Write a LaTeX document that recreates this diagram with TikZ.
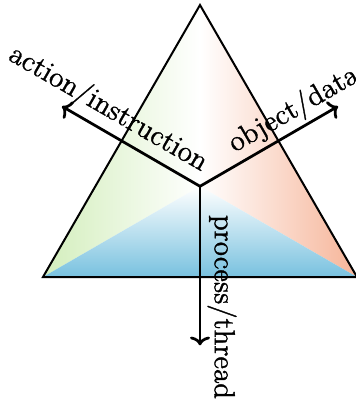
\documentclass[tikz,border=0pt]{standalone}
\usepackage{fontspec}
\newfontfamily\lblfont{lmroman12-regular.otf}[FakeBold=1.2]
\usetikzlibrary{calc,arrows.meta}
\definecolor{tgreen}{HTML}{D3EEBC}
\definecolor{tsalmon}{HTML}{F6B498}
\definecolor{tblue}{HTML}{78C1DF}
\tikzset{
  edge/.style={draw=black, line width=0.8pt, line join=miter},
  axis/.style={draw=black, line width=1.1pt, -{To[length=3.5pt,width=8pt]}},
  lbl/.style={font=\lblfont\fontsize{11.6}{14}\selectfont\bfseries, text=black, inner sep=0pt}
}
\begin{document}
\begin{tikzpicture}[x=0.4pt,y=-0.4pt]
\useasboundingbox (0,0) rectangle (355,401);
\coordinate (A) at (200,5);
\coordinate (L) at (43,277);
\coordinate (R) at (357,277);
\coordinate (C) at (200,186.3);
\shade[left color=tgreen, right color=white] (A) -- (C) -- (L) -- cycle;
\shade[left color=white, right color=tsalmon] (A) -- (C) -- (R) -- cycle;
\shade[top color=white, bottom color=tblue] (C) -- (L) -- (R) -- cycle;
\draw[edge] (A) -- (L) -- (R) -- cycle;
\coordinate (EL) at ($(C)+(-138,-80)$);
\coordinate (ER) at ($(C)+(138,-80)$);
\coordinate (ED) at ($(C)+(0,159)$);
\draw[axis] (C) -- (EL);
\draw[axis] (C) -- (ER);
\draw[axis] (C) -- (ED);
\node[lbl, rotate=-30] (tl) at (108,109) {action/instruction};
\node[lbl, rotate=30] (tr) at (294,110) {object/data};
\node[lbl, rotate=-90] (td) at (222,307) {process/thread};
\end{tikzpicture}
\end{document}
